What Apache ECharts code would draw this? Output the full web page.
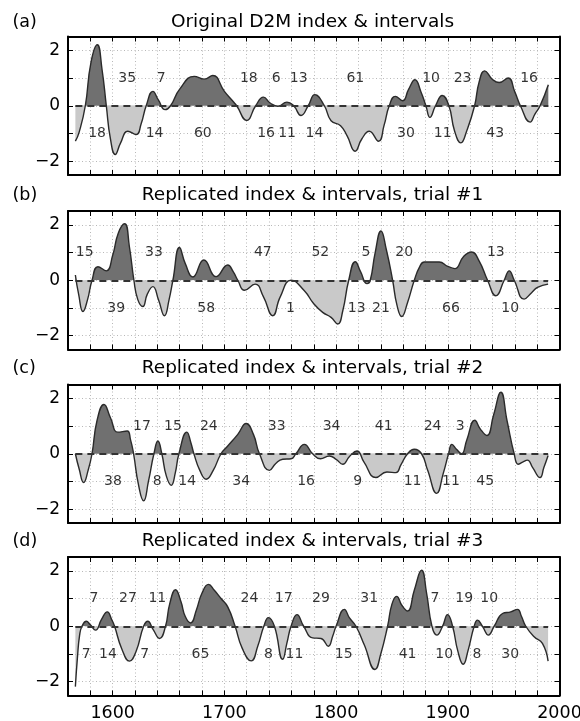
<!DOCTYPE html>
<html><head><meta charset="utf-8">
<script src="https://cdn.jsdelivr.net/npm/echarts@6/dist/echarts.min.js"></script>
<style>html,body{margin:0;padding:0;background:#fff}#c{width:580px;height:721px}</style>
</head><body><div id="c"></div>
<script>
// ---- data ----
const titles = ['Original D2M index & intervals','Replicated index & intervals, trial #1','Replicated index & intervals, trial #2','Replicated index & intervals, trial #3'];
const panelTags = ['(a)','(b)','(c)','(d)'];
const xTickLabels = [1600,1700,1800,1900,2000];
const yTickLabels = [-2,0,2];

const indexA = [[1566.6,-1.28],[1570,-0.95],[1575.5,0],[1580.5,1.55],[1586.2,2.2],[1590.5,1.3],[1594.3,0],[1598,-1.2],[1602.3,-1.76],[1607,-1.35],[1613.6,-0.92],[1621,-1.04],[1625.5,-0.65],[1630,0],[1636,0.52],[1641,0.2],[1647,-0.14],[1651.8,0],[1660,0.6],[1673,1.06],[1682,0.96],[1689.6,1.09],[1700,0.52],[1709,0.1],[1711,0],[1720,-0.53],[1728,0],[1735,0.31],[1741,0.1],[1747.8,-0.02],[1756,0.13],[1762,0],[1768.6,-0.35],[1775,0],[1781,0.4],[1789.5,0],[1795.5,-0.54],[1804,-0.72],[1810,-1.1],[1817,-1.64],[1823,-1.2],[1829.7,-0.92],[1838,-1.28],[1843,-0.7],[1847.6,0],[1853,0.34],[1859.5,0.18],[1865,0.6],[1870.6,0.94],[1876,0.5],[1880.4,0],[1884,-0.42],[1889,0],[1895,0.37],[1901,0],[1906,-0.9],[1911.7,-1.34],[1917,-0.9],[1924,0],[1928,0.85],[1933,1.26],[1940,0.95],[1946,0.84],[1954,1.0],[1960,0.5],[1965,0],[1973.7,-0.59],[1978,-0.3],[1982.6,0],[1990,0.76]];
const indexB = [[1566.6,0.19],[1569.5,-0.5],[1573.4,-1.13],[1577.5,-0.7],[1581.5,0],[1586.8,0.49],[1594.3,0.34],[1600,0.9],[1605,1.7],[1610.7,2.04],[1615,1.2],[1619,0],[1622.5,-0.7],[1627,-0.95],[1631,-0.5],[1636,-0.23],[1641,-0.7],[1646.4,-1.28],[1650.5,-0.7],[1653.9,0],[1659.8,1.18],[1665,0.6],[1671.8,0.12],[1681.6,0.73],[1692.6,0.13],[1703,0.55],[1708,0.3],[1712,0],[1718,-0.36],[1727.5,-0.14],[1735,-0.6],[1743.3,-1.28],[1750,-0.6],[1759.7,0],[1771.6,-0.38],[1780,-0.85],[1788,-1.16],[1795.5,-1.34],[1801.4,-1.58],[1806,-1.1],[1811.3,0],[1817.2,0.67],[1822,0.3],[1827.7,-0.12],[1830.6,0],[1835,1.0],[1840.2,1.78],[1845,1.1],[1850.6,0],[1854.5,-0.9],[1858.7,-1.31],[1864,-0.8],[1870,0],[1875,0.5],[1879,0.66],[1892.3,0.66],[1900,0.5],[1906.3,0.42],[1914,0.85],[1921.2,1.02],[1928,0.7],[1935.6,0],[1943,-0.56],[1950.5,0],[1955,0.34],[1959.5,0],[1968.3,-0.68],[1975,-0.45],[1980.3,-0.26],[1989.8,-0.14]];
const indexC = [[1566.6,0],[1570,-0.55],[1574,-1.04],[1578,-0.6],[1581.5,0],[1586,1.2],[1592.2,1.78],[1598,1.3],[1604.7,0.78],[1613,0.82],[1616,0.5],[1618.7,0],[1623,-1.1],[1627.7,-1.7],[1632,-1.0],[1636.9,0],[1640.5,0.46],[1644,0],[1648,-0.8],[1652.4,-1.14],[1656,-0.7],[1659.3,0],[1666.4,0.78],[1670,0.4],[1672.7,0],[1678,-0.6],[1683.7,-0.92],[1690,-0.6],[1697,0],[1703,0.28],[1712,0.7],[1719.5,1.09],[1726,0.7],[1731.4,0],[1740.3,-0.6],[1746,-0.35],[1752.2,-0.2],[1759.7,-0.18],[1764,0],[1771.6,0.34],[1779,0],[1786,-0.18],[1794,-0.08],[1800,-0.2],[1806,-0.38],[1812,-0.1],[1818.7,0.1],[1825,-0.3],[1835.7,-0.86],[1845.5,-0.66],[1853.6,-0.68],[1858,-0.4],[1864,0],[1870,0.16],[1876.5,0],[1882,-0.6],[1890,-1.43],[1896,-0.7],[1900.7,0],[1903.7,0.34],[1908,0.15],[1912.3,0],[1917,0.5],[1924.2,1.21],[1929,0.9],[1935,0.66],[1941,1.4],[1947.5,2.22],[1953,1.2],[1959.4,0],[1963,-0.38],[1967,-0.3],[1971.3,-0.23],[1976,-0.5],[1982.6,-0.86],[1986,-0.5],[1989.8,-0.06]];
const indexD = [[1566.6,-2.18],[1568.5,-1.1],[1570.4,-0.32],[1572.5,0],[1576.4,0.18],[1580,0.05],[1584.7,-0.14],[1590,0.25],[1595.2,0.52],[1599,0.25],[1601.7,0],[1608,-0.8],[1615.1,-1.26],[1621,-0.9],[1627.7,0],[1631.5,0.18],[1636,-0.1],[1642,-0.44],[1647.3,0],[1651,0.8],[1656.3,1.32],[1661,0.9],[1665,0.35],[1669.7,0.12],[1675,0.6],[1680,1.2],[1685.8,1.51],[1691,1.3],[1697,1.0],[1703,0.7],[1709.6,0],[1716,-0.8],[1724,-1.25],[1730,-0.7],[1735.3,0],[1739.4,0.31],[1744.8,0],[1752.2,-1.19],[1756,-0.6],[1759.7,0],[1765,0.42],[1771,0],[1779,-0.42],[1786.5,-0.44],[1793,-0.72],[1797,-0.35],[1800,0],[1807.4,0.61],[1812,0.3],[1817.8,0],[1825.3,-0.68],[1834.8,-1.56],[1840,-1.0],[1846.1,0],[1850,0.8],[1854.2,1.08],[1859,0.75],[1864,0.55],[1870,1.3],[1876.5,2.02],[1881,1.2],[1885.8,0],[1890.2,-0.32],[1895.3,0],[1899.8,0.42],[1904.3,0],[1909,-0.9],[1913.8,-1.37],[1918,-0.9],[1923.6,0],[1926.6,0.22],[1931,0],[1936.4,-0.32],[1941.5,0],[1949,0.46],[1956.4,0.52],[1962.4,0.61],[1966,0.35],[1969.8,0],[1977.3,-0.38],[1984.7,-0.62],[1989.8,-1.26]];

const upperA = [[1613,'35'],[1643.5,'7'],[1721.9,'18'],[1746.3,'6'],[1766.6,'13'],[1817.2,'61'],[1885,'10'],[1913.2,'23'],[1972.8,'16']];
const lowerA = [[1586,'18'],[1637.5,'14'],[1680.7,'60'],[1737.3,'16'],[1756.1,'11'],[1780.6,'14'],[1862.5,'30'],[1895.4,'11'],[1942.4,'43']];
const upperB = [[1574.9,'15'],[1636.9,'33'],[1734.4,'47'],[1785.9,'52'],[1826.8,'5'],[1861,'20'],[1943,'13']];
const lowerB = [[1603.2,'39'],[1683.7,'58'],[1759.1,'1'],[1818.4,'13'],[1840.2,'21'],[1902.8,'66'],[1955.8,'10']];
const upperC = [[1626.2,'17'],[1653.9,'15'],[1686.1,'24'],[1746.9,'33'],[1796,'34'],[1842.6,'41'],[1886.4,'24'],[1911.1,'3']];
const lowerC = [[1600.2,'38'],[1639.9,'8'],[1666.7,'14'],[1715,'34'],[1773.1,'16'],[1819.3,'9'],[1868.5,'11'],[1902.8,'11'],[1933.5,'45']];
const upperD = [[1583.2,'7'],[1613.7,'27'],[1640,'11'],[1722.4,'24'],[1753.1,'17'],[1786.5,'29'],[1829.7,'31'],[1888.5,'7'],[1914.7,'19'],[1937,'10']];
const lowerD = [[1576.4,'7'],[1595.8,'14'],[1628.6,'7'],[1678.6,'65'],[1739.4,'8'],[1762.7,'11'],[1806.8,'15'],[1864,'41'],[1896.8,'10'],[1926,'8'],[1955.8,'30']];

const indices = [indexA,indexB,indexC,indexD];
const uppers = [upperA,upperB,upperC,upperD];
const lowers = [lowerA,lowerB,lowerC,lowerD];

// ---- styling / layout ----
const FONT = 'DejaVu Sans';
const DARK = '#707070', LIGHT = '#c9c9c9', LINE = '#2a2a2a';
const gridTops = [36.5, 211, 384.5, 557];
const gridH = 138.5, gridLeft = 68, gridRight = 20.5;
const titleY = [22, 195.5, 368.5, 541.5];

const grids = [], xAxes = [], yAxes = [], series = [], visualMaps = [], graphics = [];
for (let i = 0; i < 4; i++) {
  grids.push({left: gridLeft, right: gridRight, top: gridTops[i], height: gridH, show: false,
    containLabel: false, outerBoundsMode: 'none'});
  const axLine = {show: true, onZero: false, lineStyle: {color: '#000', width: 2}};
  const tick = {show: true, inside: true, length: 5, lineStyle: {color: '#000', width: 1}};
  xAxes.push({type: 'value', gridIndex: i, min: 1560, max: 2000, interval: 20, position: 'bottom',
    axisLine: axLine, axisTick: tick,
    axisLabel: {show: i === 3, margin: 9, fontSize: 17.5, fontFamily: FONT, color: '#000',
      hideOverlap: false, showMaxLabel: true, showMinLabel: true,
      formatter: v => xTickLabels.includes(v) ? String(v) : ''},
    splitLine: {show: true, lineStyle: {color: '#b8b8b8', width: 1, type: [1, 2.5]}}});
  xAxes.push({type: 'value', gridIndex: i, min: 1560, max: 2000, interval: 20, position: 'top',
    axisLine: axLine, axisTick: tick, axisLabel: {show: false}, splitLine: {show: false}});
  yAxes.push({type: 'value', gridIndex: i, min: -2.5, max: 2.5, position: 'left',
    axisLine: axLine,
    axisTick: Object.assign({customValues: [-2,-1,0,1,2]}, tick),
    axisLabel: {customValues: yTickLabels, margin: 8, fontSize: 17, fontFamily: FONT, color: '#000',
      formatter: v => v < 0 ? '\u2212' + Math.abs(v) : String(v)},
    splitLine: {show: true, lineStyle: {color: '#b8b8b8', width: 1, type: [1, 2.5]}}});
  yAxes.push({type: 'value', gridIndex: i, min: -2.5, max: 2.5, position: 'right',
    axisLine: axLine,
    axisTick: Object.assign({customValues: [-2,-1,0,1,2]}, tick),
    axisLabel: {show: false}, splitLine: {show: false}});

  const d = indices[i];
  const lineIdx = series.length;
  series.push({type: 'line', xAxisIndex: i*2, yAxisIndex: i*2, data: d, smooth: 0.5,
    showSymbol: false, symbol: 'none', silent: true, z: 3,
    lineStyle: {color: LINE, width: 1.4},
    areaStyle: {opacity: 1, origin: 0},
    markLine: {silent: true, symbol: ['none','none'], label: {show: false}, z: 4,
      lineStyle: {color: '#333', width: 1.8, type: [7, 5]},
      data: [[{coord: [d[0][0], 0]}, {coord: [d[d.length-1][0], 0]}]]}});
  visualMaps.push({type: 'piecewise', show: false, seriesIndex: lineIdx, dimension: 1,
    pieces: [{gt: 0, lte: 10, color: DARK}, {gte: -10, lte: 0, color: LIGHT}]});
  const lab = uppers[i].map(p => [p[0], 1, p[1]]).concat(lowers[i].map(p => [p[0], -1, p[1]]));
  series.push({type: 'scatter', xAxisIndex: i*2, yAxisIndex: i*2, data: lab, symbolSize: 1, silent: true, z: 5,
    itemStyle: {color: 'rgba(0,0,0,0)'},
    label: {show: true, position: 'inside', formatter: p => p.value[2], fontSize: 14, fontFamily: FONT, color: '#000'}});

  graphics.push({type: 'text', x: 12.5, y: titleY[i], style: {text: panelTags[i], fontSize: 17.5, fontFamily: FONT, fill: '#000', textAlign: 'left', textVerticalAlign: 'middle'}});
  graphics.push({type: 'text', x: 312.5, y: titleY[i], style: {text: titles[i], fontSize: 18.5, fontFamily: FONT, fill: '#000', textAlign: 'center', textVerticalAlign: 'middle'}});
}

const chart = echarts.init(document.getElementById('c'), null, {renderer: 'canvas'});
chart.setOption({animation: false, backgroundColor: '#fff', grid: grids, xAxis: xAxes, yAxis: yAxes,
  visualMap: visualMaps, series: series, graphic: graphics});
</script>
</body></html>
